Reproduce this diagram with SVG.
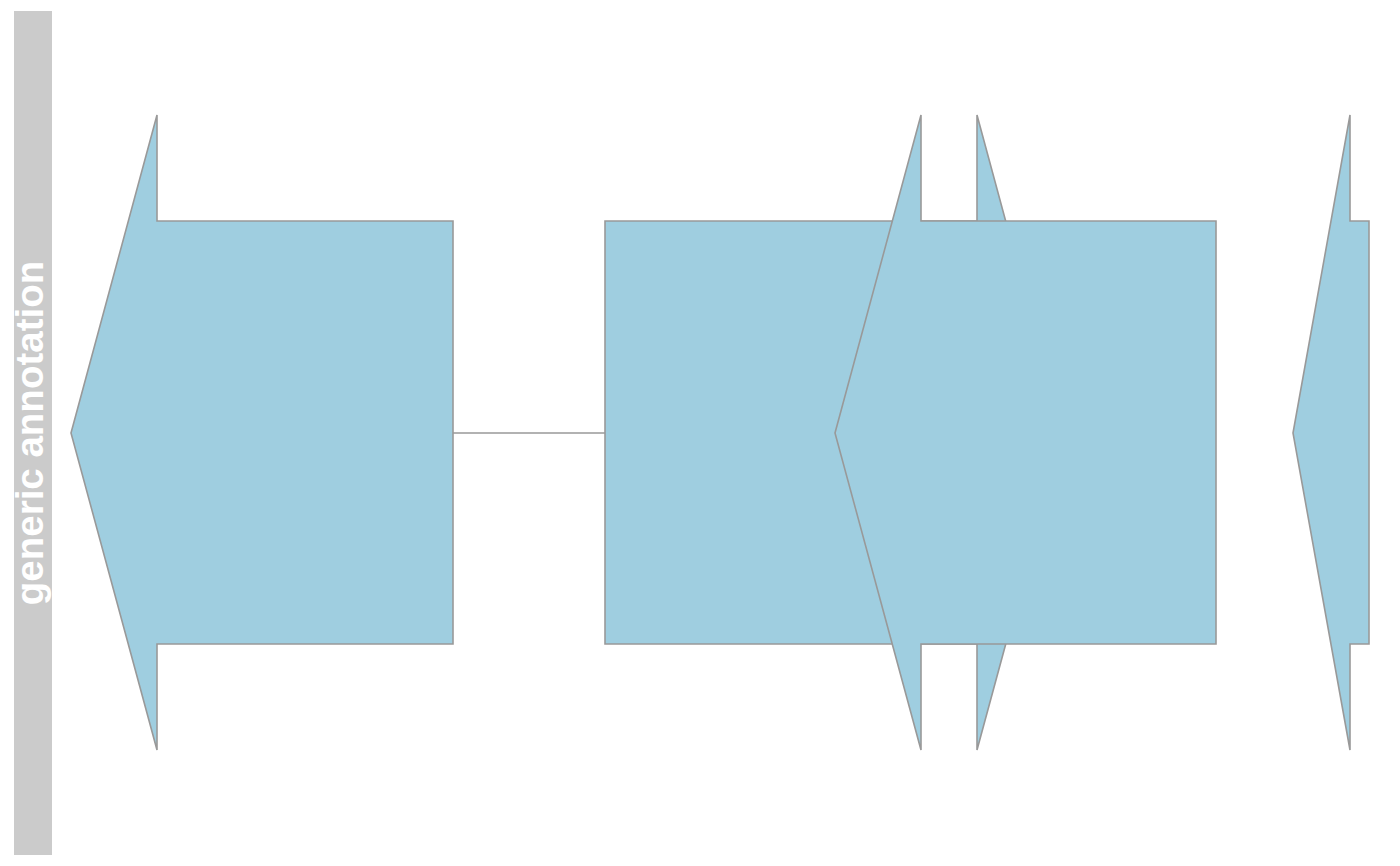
<svg xmlns="http://www.w3.org/2000/svg" width="1400" height="866" viewBox="0 0 1400 866">
<style>
.feat{fill:#9fcee0;stroke:#999999;stroke-width:1.6;stroke-linejoin:miter}
.conn{stroke:#999999;stroke-width:1.6;fill:none}
.title{font-family:"Liberation Sans",Arial,sans-serif;font-weight:bold;font-size:38.5px;fill:#ffffff}
</style>
<rect width="1400" height="866" fill="#ffffff"/>
<g id="track-title">
<rect x="14" y="11" width="38" height="844" fill="#cbcbcb"/>
<text class="title" transform="translate(43,433) rotate(-90)" text-anchor="middle">generic annotation</text>
</g>
<g id="connectors">
<line class="conn" x1="453" y1="433" x2="605" y2="433"/>
</g>
<g id="feature1">
<polygon class="feat" points="71,433 157,115 157,221 453,221 453,644 157,644 157,750"/>
</g>
<g id="feature2">
<polygon class="feat" points="605,221 977,221 977,115 1063,433 977,750 977,644 605,644"/>
</g>
<g id="feature3">
<polygon class="feat" points="835,433 921,115 921,221 1216,221 1216,644 921,644 921,750"/>
</g>
<g id="feature4">
<polygon class="feat" points="1293,433 1350,115 1350,221 1369,221 1369,644 1350,644 1350,750"/>
</g>
</svg>
